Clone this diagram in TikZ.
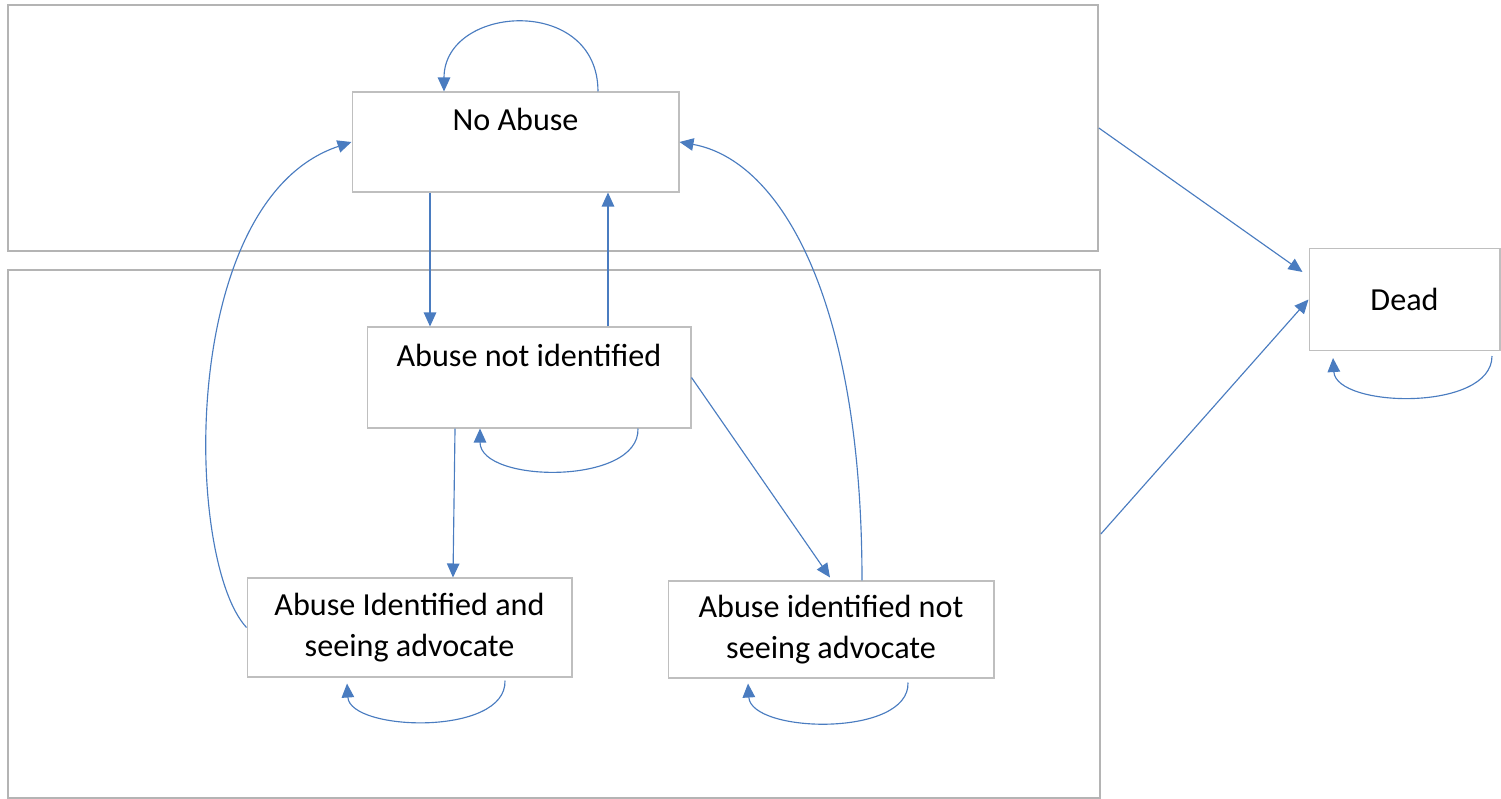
\documentclass[tikz,border=0pt]{standalone}
\usepackage{fontspec}
\setmainfont{Carlito}
\usetikzlibrary{arrows.meta,calc}
\definecolor{arrblue}{HTML}{4A7CC0}
\definecolor{boxgrey}{HTML}{BFBFBF}
\definecolor{regiongrey}{HTML}{B4B4B4}
\begin{document}
\begin{tikzpicture}[x=0.02cm,y=-0.02cm,
  state/.style={draw=boxgrey,line width=0.6pt,fill=white,font=\fontsize{18.3}{23}\selectfont,align=center,inner sep=0pt},
  region/.style={draw=regiongrey,line width=1.1pt,inner sep=0pt},
  arr/.style={draw=arrblue,line width=0.65pt,-{Triangle[length=0.28cm,width=0.25cm]}}]
\useasboundingbox (0,0) rectangle (1501,798);
% regions
\node[region,minimum width=21.8cm,minimum height=4.92cm] (topreg) at (553,128) {};
\node[region,minimum width=21.84cm,minimum height=10.56cm] (botreg) at (554,534) {};
% states
\node[state,minimum width=6.54cm,text height=0.76cm,text depth=1.24cm] (na) at (515.5,142) {No Abuse};
\node[state,minimum width=6.48cm,text height=0.78cm,text depth=1.24cm] (ani) at (529,377.5) {Abuse not identified};
\node[state,minimum width=6.5cm,minimum height=1.98cm] (aisa) at (409.5,627.5) {Abuse Identified and\\seeing advocate};
\node[state,minimum width=6.52cm,minimum height=1.94cm] (ainsa) at (831,629.5) {Abuse identified not\\seeing advocate};
\node[state,minimum width=3.82cm,minimum height=2.04cm] (dead) at (1404.5,299.5) {Dead};
% connectors
\draw[arr] ([xshift=1.65cm]na.north) .. controls +(0,-97) and +(0,-87) .. ([xshift=-1.43cm]na.north);
\draw[arr] ([xshift=-1.71cm]na.south) coordinate (s1) -- (s1 |- ani.north);
\draw[arr] ([xshift=1.58cm]ani.north) coordinate (s2) -- (s2 |- na.south);
\draw[arr] ([xshift=2.18cm]ani.south) .. controls +(2,57) and +(0,55) .. ([xshift=-0.98cm]ani.south);
\draw[arr] ([xshift=-1.48cm]ani.south) -- ([xshift=0.87cm]aisa.north);
\draw[arr] (ani.east) -- ([xshift=-0.02cm,yshift=0.06cm]ainsa.north);
\draw[arr] ([xshift=0.62cm]ainsa.north) .. controls +(0,-281) and +(101,18) .. (na.east);
\draw[arr] (aisa.west) .. controls +(-62,-67) and +(-174,58) .. (na.west);
\draw[arr] ([xshift=1.91cm,yshift=-0.06cm]aisa.south) .. controls +(2,56) and +(3,48) .. ([xshift=-1.25cm,yshift=-0.12cm]aisa.south);
\draw[arr] ([xshift=1.54cm,yshift=-0.08cm]ainsa.south) .. controls +(2,55) and +(3,50) .. ([xshift=-1.66cm,yshift=-0.1cm]ainsa.south);
\draw[arr] (topreg.east) -- ([xshift=-0.12cm,yshift=-0.48cm]dead.north west);
\draw[arr] (botreg.east) -- (dead.west);
\draw[arr] ([xshift=1.75cm,yshift=-0.1cm]dead.south) .. controls +(0,56) and +(3,50) .. ([xshift=-1.43cm,yshift=-0.14cm]dead.south);
\end{tikzpicture}
\end{document}
